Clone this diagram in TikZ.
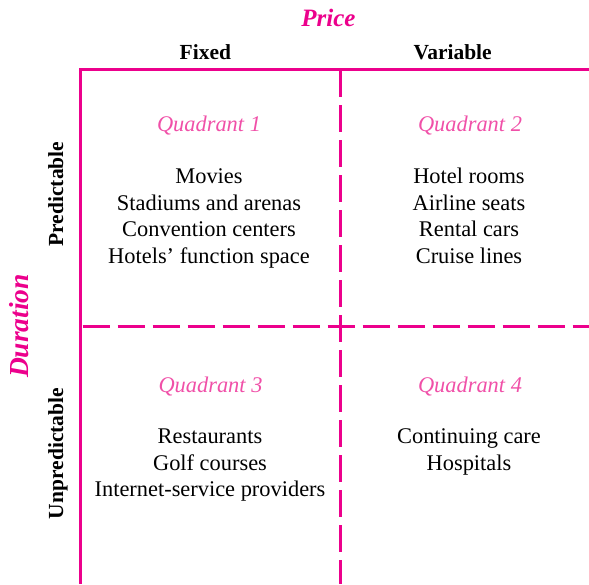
\documentclass[tikz,border=0pt]{standalone}
\usepackage{fontspec}
\setmainfont{Liberation Serif}
\definecolor{mag}{HTML}{EC008C}
\definecolor{qpink}{HTML}{F050A8}
\begin{document}
\begin{tikzpicture}[x=1pt,y=-1pt,
  frame/.style={draw=mag,line width=3pt,line join=miter},
  dashline/.style={draw=mag,line width=3pt,dash pattern=on 27pt off 8pt},
  item/.style={inner sep=0pt,anchor=base,font=\fontsize{22.4}{26.7}\selectfont},
  qlabel/.style={inner sep=0pt,anchor=base,text=qpink,font=\fontsize{22.4}{26.7}\selectfont\itshape},
  header/.style={inner sep=0pt,anchor=base,font=\fontsize{21.5}{25}\selectfont\bfseries},
  axislab/.style={inner sep=0pt,anchor=base,text=mag,font=\fontsize{25}{30}\selectfont\bfseries\itshape}]
\useasboundingbox (0,0) rectangle (589,584);
% frame coordinates
\coordinate (tl) at (80,69);
\coordinate (tr) at (589,69);
\coordinate (bl) at (80,584);
\coordinate (mt) at (340,69);
\coordinate (mb) at (340,584);
\coordinate (ml) at (80,326);
\coordinate (mr) at (589,326);
% lines
\draw[dashline,dash phase=32.3pt] (ml) -- (mr);
\draw[dashline,dash phase=34pt] (mt) -- (mb);
\draw[frame] (tr) -- (tl) -- (bl);
% axis titles
\node[axislab] (price) at (328.5,26.7) {Price};
\node[axislab,rotate=90,font=\fontsize{27.5}{32}\selectfont\bfseries\itshape] (duration) at (28,326) {Duration};
% headers
\node[header] (fixed) at (205.4,59.3) {Fixed};
\node[header] (variable) at (452.7,59.3) {Variable};
\node[header,rotate=90] (pred) at (63,194) {Predictable};
\node[header,rotate=90] (unpred) at (63,453.5) {Unpredictable};
% quadrant 1
\node[qlabel] (q1) at (209,131.7) {Quadrant 1};
\node[item] (q1a) at (209,183.3) {Movies};
\node[item] (q1b) at (209,210) {Stadiums and arenas};
\node[item] (q1c) at (209,236.7) {Convention centers};
\node[item] (q1d) at (209,263.3) {Hotels’ function space};
% quadrant 2
\node[qlabel] (q2) at (470,131.7) {Quadrant 2};
\node[item] (q2a) at (469,183.3) {Hotel rooms};
\node[item] (q2b) at (469,210) {Airline seats};
\node[item] (q2c) at (469,236.7) {Rental cars};
\node[item] (q2d) at (469,263.3) {Cruise lines};
% quadrant 3
\node[qlabel] (q3) at (210.5,392.2) {Quadrant 3};
\node[item] (q3a) at (210,443.3) {Restaurants};
\node[item] (q3b) at (210,470) {Golf courses};
\node[item] (q3c) at (210,496.7) {Internet-service providers};
% quadrant 4
\node[qlabel] (q4) at (470,392) {Quadrant 4};
\node[item] (q4a) at (469,443.3) {Continuing care};
\node[item] (q4b) at (469,470) {Hospitals};
\end{tikzpicture}
\end{document}
